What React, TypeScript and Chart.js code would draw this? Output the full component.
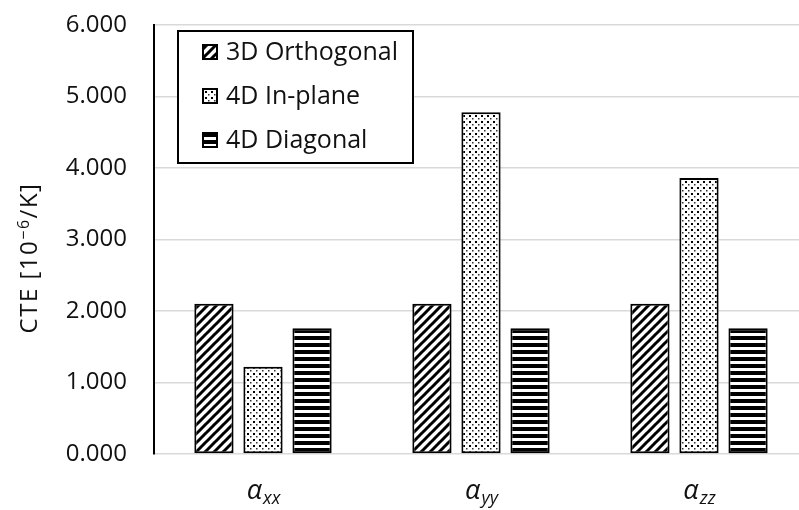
import React, { useEffect, useRef } from "react";
import { Chart, registerables } from "chart.js";

Chart.register(...registerables);

const categories = ["xx", "yy", "zz"];
const seriesNames = ["3D Orthogonal", "4D In-plane", "4D Diagonal"];
const orthogonal = [2.1, 2.1, 2.1];
const inPlane = [1.22, 4.78, 3.86];
const diagonal = [1.76, 1.76, 1.76];
const yMin = 0;
const yMax = 6;
const yStep = 1;
const yTitleParts = ["CTE [10", "\u22126", "/K]"];

const FONT = "'Open Sans', 'DejaVu Sans', sans-serif";

function makePattern(kind: string): CanvasPattern | string {
  const c = document.createElement("canvas");
  const ctx = c.getContext("2d")!;
  if (kind === "diag") {
    const s = 9;
    c.width = s;
    c.height = s;
    ctx.fillStyle = "#fff";
    ctx.fillRect(0, 0, s, s);
    ctx.strokeStyle = "#000";
    ctx.lineWidth = 3;
    ctx.lineCap = "square";
    for (const off of [-s, 0, s]) {
      ctx.beginPath();
      ctx.moveTo(off - 1, s + 1);
      ctx.lineTo(off + s + 1, -1);
      ctx.stroke();
    }
  } else if (kind === "dots") {
    const s = 6;
    c.width = s;
    c.height = s;
    ctx.fillStyle = "#fff";
    ctx.fillRect(0, 0, s, s);
    ctx.fillStyle = "#000";
    ctx.fillRect(1, 1, 2, 2);
    ctx.fillStyle = "#333";
    ctx.fillRect(4, 4, 1.5, 1.5);
  } else {
    const s = 7;
    c.width = s;
    c.height = s;
    ctx.fillStyle = "#fff";
    ctx.fillRect(0, 0, s, s);
    ctx.fillStyle = "#000";
    ctx.fillRect(0, 0, s, 4);
  }
  return ctx.createPattern(c, "repeat") || "#888";
}

export default function App() {
  const ref = useRef<HTMLCanvasElement>(null);

  useEffect(() => {
    document.body.style.overflow = "hidden";
    const canvas = ref.current!;
    const patterns = [makePattern("diag"), makePattern("dots"), makePattern("hstripe")];
    const values = [orthogonal, inPlane, diagonal];

    const legendPlugin = {
      id: "boxLegend",
      afterDraw(chart: any) {
        const ctx = chart.ctx;
        const left = 178, top = 31, w = 235, h = 132;
        ctx.save();
        ctx.fillStyle = "#fff";
        ctx.fillRect(left, top, w, h);
        ctx.strokeStyle = "#000";
        ctx.lineWidth = 2;
        ctx.strokeRect(left, top, w, h);
        chart.data.datasets.forEach((ds: any, i: number) => {
          const cy = 52 + i * 44;
          ctx.fillStyle = ds.backgroundColor;
          ctx.fillRect(203, cy - 7, 14, 14);
          ctx.strokeStyle = "#000";
          ctx.lineWidth = 2;
          ctx.strokeRect(203, cy - 7, 14, 14);
          ctx.fillStyle = "#111";
          ctx.font = `25px ${FONT}`;
          ctx.textBaseline = "middle";
          ctx.textAlign = "left";
          ctx.fillText(ds.label, 226, cy + 1);
        });
        ctx.restore();
      },
    };

    const yTitlePlugin = {
      id: "yTitle",
      afterDraw(chart: any) {
        const ctx = chart.ctx;
        ctx.save();
        ctx.translate(37, 258);
        ctx.rotate(-Math.PI / 2);
        ctx.fillStyle = "#111";
        ctx.textBaseline = "alphabetic";
        ctx.textAlign = "left";
        (ctx as any).letterSpacing = "1.5px";
        const big = `24px ${FONT}`;
        const small = `16px ${FONT}`;
        ctx.font = big;
        const w0 = ctx.measureText(yTitleParts[0]).width;
        const w2 = ctx.measureText(yTitleParts[2]).width;
        ctx.font = small;
        const w1 = ctx.measureText(yTitleParts[1]).width;
        let x = -(w0 + w1 + w2) / 2;
        ctx.font = big;
        ctx.fillText(yTitleParts[0], x, 0);
        x += w0;
        ctx.font = small;
        ctx.fillText(yTitleParts[1], x, -8);
        x += w1;
        ctx.font = big;
        ctx.fillText(yTitleParts[2], x, 0);
        ctx.restore();
      },
    };

    const xLabelPlugin = {
      id: "xLabels",
      afterDraw(chart: any) {
        const ctx = chart.ctx;
        const xs = chart.scales.x;
        ctx.save();
        ctx.fillStyle = "#111";
        ctx.textBaseline = "alphabetic";
        ctx.textAlign = "left";
        chart.data.labels.forEach((lab: string, i: number) => {
          const cx = xs.getPixelForValue(i);
          ctx.font = `italic 27px ${FONT}`;
          const wa = ctx.measureText("\u03B1").width;
          ctx.font = `italic 18px ${FONT}`;
          const ws = ctx.measureText(lab).width;
          const x0 = cx - (wa + ws) / 2;
          ctx.font = `italic 27px ${FONT}`;
          ctx.fillText("\u03B1", x0, 499);
          ctx.font = `italic 18px ${FONT}`;
          ctx.fillText(lab, x0 + wa + 1, 504);
        });
        ctx.restore();
      },
    };

    const chart = new Chart(canvas, {
      type: "bar",
      data: {
        labels: categories,
        datasets: seriesNames.map((name, i) => ({
          label: name,
          data: values[i],
          backgroundColor: patterns[i] as any,
          borderColor: "#000",
          borderWidth: 2,
          borderSkipped: false,
          categoryPercentage: 0.675,
          barPercentage: 0.8,
        })),
      },
      options: {
        responsive: false,
        animation: false,
        layout: { padding: { left: 0, right: 22, top: 25, bottom: 0 } },
        plugins: {
          legend: { display: false },
          tooltip: { enabled: false },
          title: { display: false },
        },
        scales: {
          x: {
            grid: { display: false },
            border: { display: false },
            ticks: { display: false },
            afterFit(scale: any) {
              scale.height = 56;
            },
          },
          y: {
            min: yMin,
            max: yMax,
            ticks: {
              stepSize: yStep,
              padding: 27,
              color: "#111",
              font: { family: FONT, size: 24 },
              callback: (v: any) => Number(v).toFixed(3),
            },
            grid: { color: "#d9d9d9", lineWidth: 1.5, drawTicks: false },
            border: { display: true, color: "#000", width: 2 },
            title: { display: false },
            afterFit(scale: any) {
              scale.width = 154;
              scale.paddingTop = 0;
              scale.paddingBottom = 0;
            },
          },
        },
      },
      plugins: [legendPlugin, yTitlePlugin, xLabelPlugin],
    });
    return () => chart.destroy();
  }, []);

  return (
    <div style={{ position: "fixed", left: 0, top: 0, width: 830, height: 510, background: "#fff" }}>
      <canvas ref={ref} width={830} height={510} />
    </div>
  );
}
